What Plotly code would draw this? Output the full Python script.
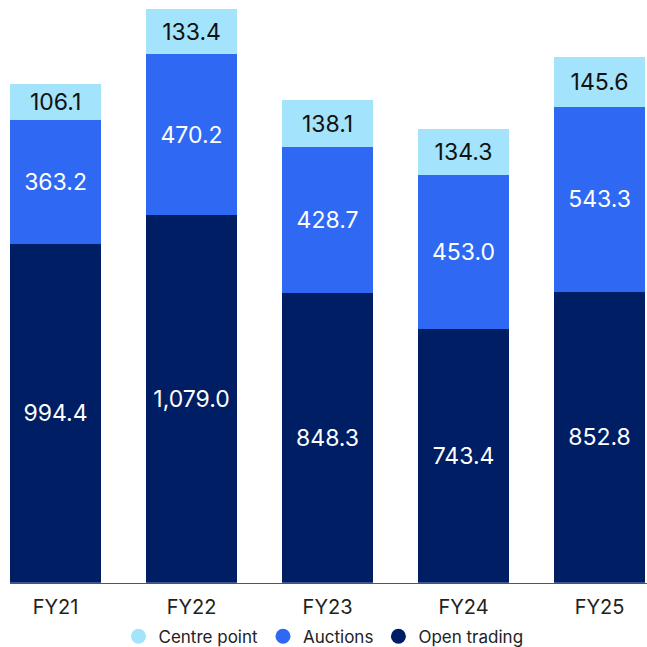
import plotly.graph_objects as go

categories = ["FY21", "FY22", "FY23", "FY24", "FY25"]
open_trading = [994.4, 1079.0, 848.3, 743.4, 852.8]
auctions = [363.2, 470.2, 428.7, 453.0, 543.3]
centre_point = [106.1, 133.4, 138.1, 134.3, 145.6]

FONT = "Inter"
fig = go.Figure()
series = [
    ("Open trading", open_trading, "#001e64", "white"),
    ("Auctions", auctions, "#2f68f2", "white"),
    ("Centre point", centre_point, "#a3e3fb", "#111111"),
]
for name, vals, col, tcol in series:
    fig.add_trace(go.Bar(
        x=categories, y=vals, name=name, marker=dict(color=col, line=dict(width=0)),
        width=0.669, texttemplate="%{y:,.1f}", textposition="inside",
        insidetextanchor="middle", textangle=0, constraintext="none",
        textfont=dict(color=tcol, size=23, family=FONT), hoverinfo="skip",
        showlegend=False,
    ))
# legend entries with circular markers
for name, vals, col, tcol in series:
    fig.add_trace(go.Scatter(
        x=[None], y=[None], mode="markers", name=name,
        marker=dict(color=col, size=15, symbol="circle"), hoverinfo="skip",
    ))

fig.update_layout(
    barmode="stack", width=647, height=647,
    margin=dict(l=10, r=0, t=0, b=63),
    paper_bgcolor="white", plot_bgcolor="white",
    font=dict(family=FONT, color="#222222"),
    showlegend=True,
    legend=dict(orientation="h", x=0.5, xref="container", xanchor="center",
                y=0.016, yref="container", yanchor="middle",
                traceorder="reversed", font=dict(size=17, color="#222222", family=FONT),
                itemwidth=30, tracegroupgap=0),
    xaxis=dict(range=[-0.335, 4.349], showline=True, linecolor="#555555", linewidth=1,
               ticks="", ticklabelstandoff=6,
               tickfont=dict(size=20, color="#222222", family=FONT), showgrid=False),
    yaxis=dict(range=[0, 1709], visible=False, showgrid=False),
)
fig.write_html("out.html", config={"displayModeBar": False},
               post_script="document.body.style.margin='0';document.body.style.padding='0';")
